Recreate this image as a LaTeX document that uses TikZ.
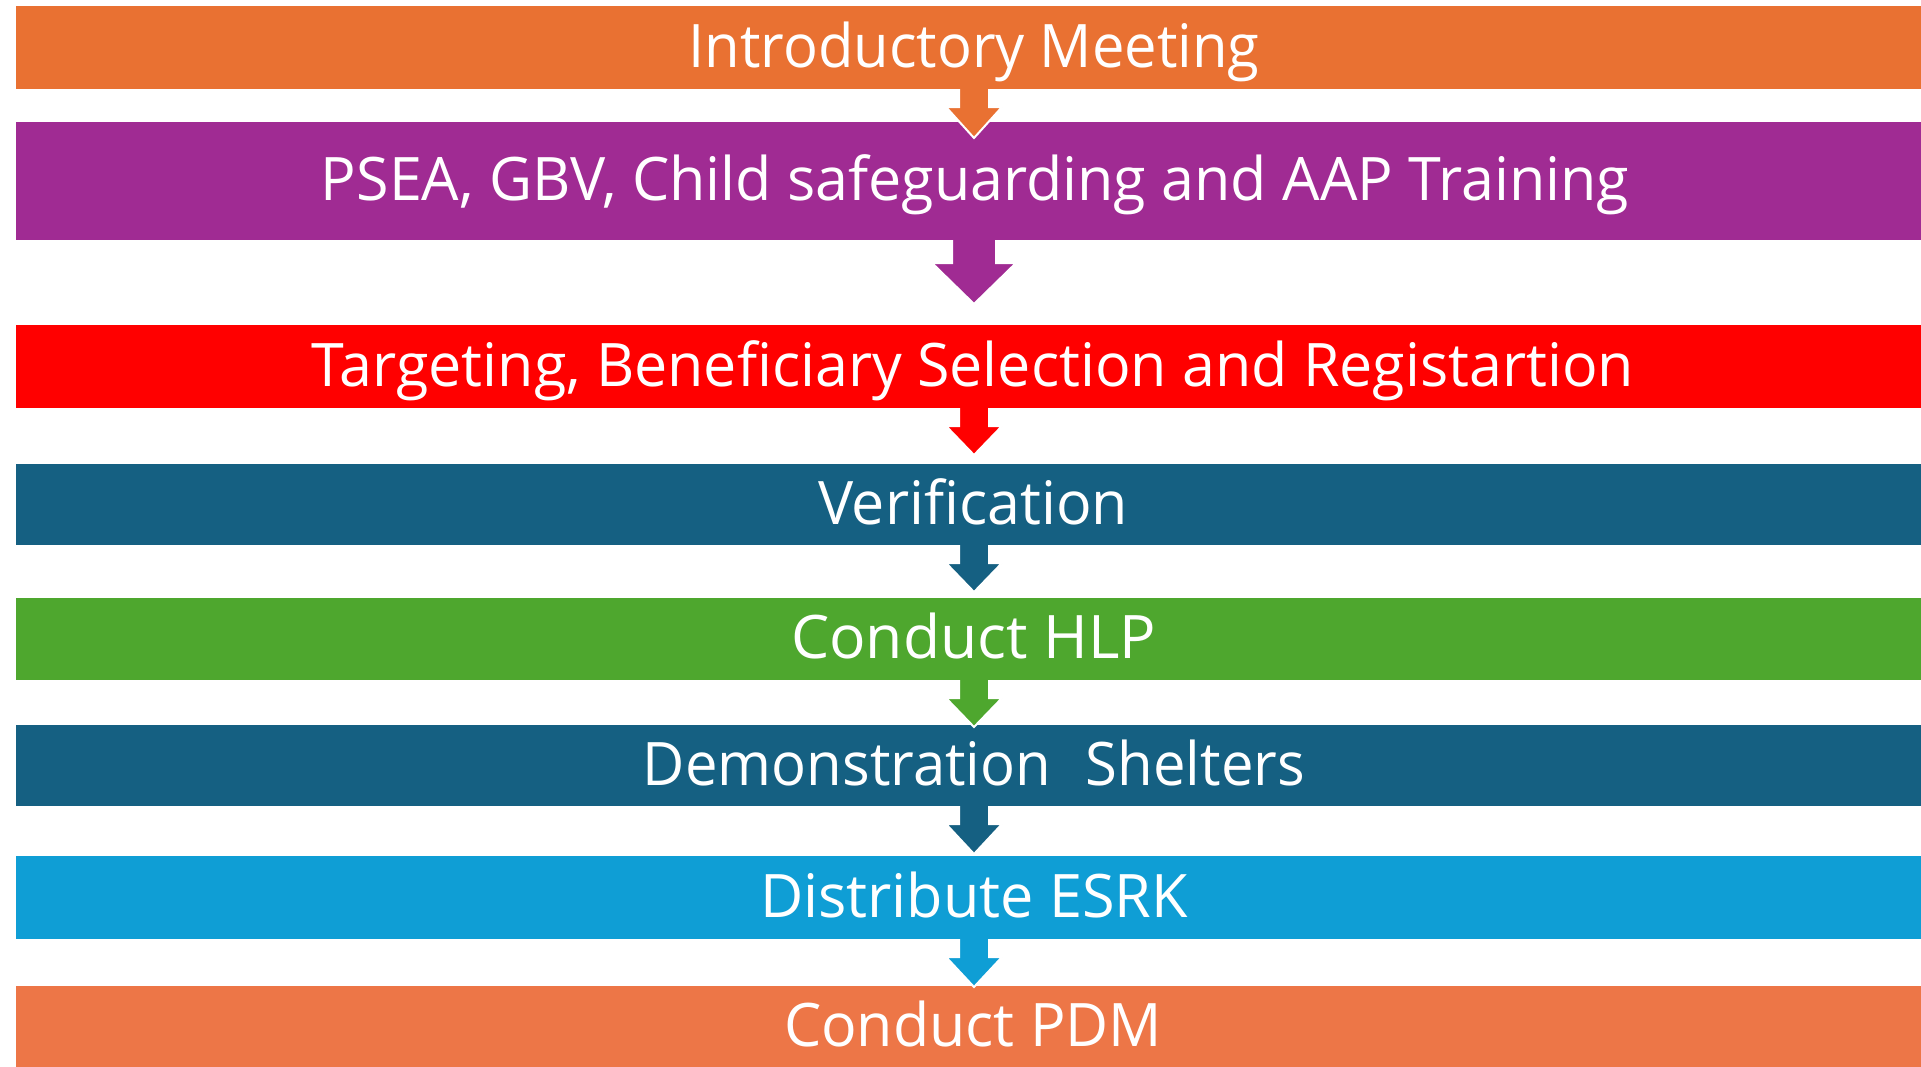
\documentclass[tikz,border=0pt]{standalone}
\usepackage{fontspec}
\setmainfont{Open Sans}
\usepackage{graphicx}
\definecolor{cOrange}{HTML}{E97132}
\definecolor{cPurple}{HTML}{A02B93}
\definecolor{cRed}{HTML}{FF0000}
\definecolor{cNavy}{HTML}{156082}
\definecolor{cGreen}{HTML}{4EA72E}
\definecolor{cSky}{HTML}{0F9ED5}
\definecolor{cOrangeB}{HTML}{ED7647}
\newcommand\flowarr[6]{%
  \filldraw[fill=#2, draw=white, line width=1pt, line join=miter]
    (#1.south -| axis) ++(-#3,0) -- ++(0,#5) -- ++(#3-#4,0) -- ++(#4,#6-#5)
    -- ++(#4,#5-#6) -- ++(#3-#4,0) -- ++(0,-#5);
}
\begin{document}
\begin{tikzpicture}[x=0.5pt,y=-0.5pt,
  bar/.style={rectangle, inner sep=0pt, outer sep=0pt, minimum width=952.5pt,
    fill=#1, draw=none, anchor=north west},
  txt/.style={text=white, inner sep=0pt, outer sep=0pt, anchor=base,
    font=\fontsize{30pt}{36pt}\selectfont}]
\fill[white] (0,0) rectangle (1921,1066);
\useasboundingbox (0,0) rectangle (1921,1066);
\coordinate (axis) at (974,0);
% bars
\node[bar=cOrange, minimum height=41.5pt] (b1) at (16,6) {};
\node[bar=cPurple, minimum height=59pt] (b2) at (16,122) {};
\node[bar=cRed, minimum height=41.5pt] (b3) at (16,325) {};
\node[bar=cNavy, minimum height=40.5pt] (b4) at (16,464) {};
\node[bar=cGreen, minimum height=41pt] (b5) at (16,598) {};
\node[bar=cNavy, minimum height=40.5pt] (b6) at (16,725) {};
\node[bar=cSky, minimum height=41.5pt] (b7) at (16,856) {};
\node[bar=cOrangeB, minimum height=42pt] (b8) at (16,986) {};
% texts
\node[txt] (t1) at (974,67) {\resizebox{285.5pt}{\height}{Introductory Meeting}};
\node[txt] (t2) at (975,200.5) {\resizebox{654pt}{\height}{PSEA, GBV, Child safeguarding and AAP Training}};
\node[txt] (t3) at (973,386) {\resizebox{661pt}{\height}{Targeting, Beneficiary Selection and Registartion}};
\node[txt] (t4) at (973,524) {\resizebox{155pt}{\height}{Verification}};
\node[txt] (t5) at (973.5,658.5) {\resizebox{182.5pt}{\height}{Conduct HLP}};
\node[txt] (t6) at (974,785) {\resizebox{331pt}{\height}{Demonstration\hspace{0.6em}Shelters}};
\node[txt] (t7) at (974,917) {\resizebox{214pt}{\height}{Distribute ESRK}};
\node[txt] (t8) at (973,1046) {\resizebox{189pt}{\height}{Conduct PDM}};
% arrows
\flowarr{b1}{cOrange}{15}{28}{18}{49}
\flowarr{b2}{cPurple}{22}{42}{23}{64}
\flowarr{b3}{cRed}{15}{28}{18}{47}
\flowarr{b4}{cNavy}{15}{28}{18}{47}
\flowarr{b5}{cGreen}{15}{28}{18}{47}
\flowarr{b6}{cNavy}{15}{28}{18}{48}
\flowarr{b7}{cSky}{15}{28}{18}{48}
\end{tikzpicture}
\end{document}
